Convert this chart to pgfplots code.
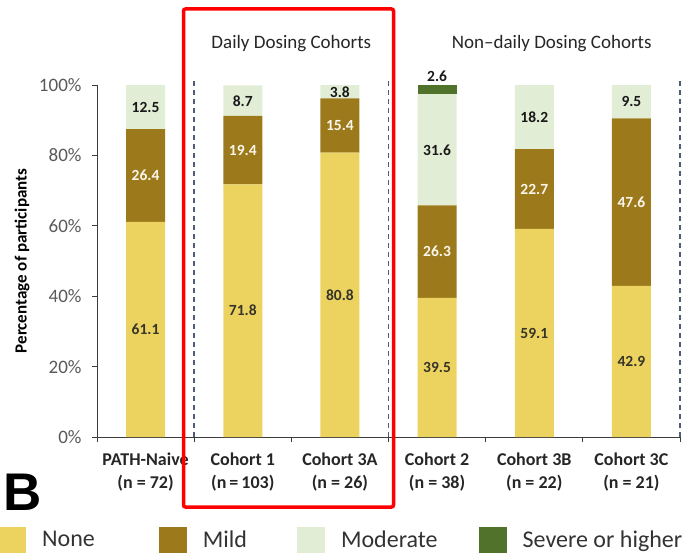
\documentclass[border=0pt]{standalone}
\usepackage{fontspec}
\setmainfont{Carlito}
\newfontfamily\panelfont{Liberation Sans}
\usepackage{pgfplots}
\pgfplotsset{compat=1.18}

\definecolor{sevNone}{RGB}{236,211,96}
\definecolor{sevMild}{RGB}{156,122,28}
\definecolor{sevModerate}{RGB}{226,237,214}
\definecolor{sevSevere}{RGB}{80,114,42}
\definecolor{groupLine}{RGB}{80,92,118}
\definecolor{tickGray}{RGB}{89,89,89}
\definecolor{axisGray}{RGB}{60,60,60}
\definecolor{darkLabel}{RGB}{55,52,40}
\definecolor{lightLabel}{RGB}{250,246,235}

\tikzset{seglabel/.style={font=\fontsize{15.5}{17}\selectfont\bfseries}}

\begin{document}
\begin{tikzpicture}
\begin{axis}[
  at={(97pt,-437pt)}, anchor=south west,
  scale only axis, width=583pt, height=352pt,
  ybar stacked, bar width=39pt,
  xmin=-0.5, xmax=5.5, ymin=0, ymax=100,
  clip=false,
  axis x line*=bottom, axis y line*=left,
  axis line style={axisGray, line width=1pt},
  tick style={axisGray, line width=1pt},
  tick align=outside,
  major tick length=5pt, minor tick length=5pt,
  xtick={0,1,2,3,4,5},
  major x tick style={draw=none},
  minor xtick={-0.5,0.5,1.5,2.5,3.5,4.5,5.5},
  xticklabels={{PATH-Naive\\(n = 72)},{Cohort 1\\(n\,=\,103)},{Cohort 3A\\(n = 26)},{Cohort 2\\(n = 38)},{Cohort 3B\\(n = 22)},{Cohort 3C\\(n = 21)}},
  xticklabel style={font=\fontsize{18}{23}\selectfont\bfseries, align=center, text=black!85, yshift=-7pt},
  ytick={0,20,40,60,80,100},
  yticklabel={\pgfmathprintnumber{\tick}\%},
  yticklabel style={font=\fontsize{19}{20}\selectfont, text=tickGray, xshift=-7pt},
  /pgf/number format/assume math mode=true,
  ylabel={Percentage of participants},
  every axis y label/.style={at={(axis description cs:-0.1286,0.5)}, rotate=90, anchor=center, font=\fontsize{17}{20}\selectfont\bfseries},
  legend image code/.code={\path[draw=none,#1] (0pt,-13pt) rectangle (28pt,13pt);},
  legend columns=4,
  legend style={at={(axis description cs:-0.1698,-0.2926)}, anchor=west, draw=none, fill=none, inner sep=0pt,
    font=\fontsize{24}{28}\selectfont, text=black!80,
    /tikz/every odd column/.append style={column sep=14pt},
    /tikz/column 2/.style={column sep=62pt},
    /tikz/column 4/.style={column sep=48pt},
    /tikz/column 6/.style={column sep=39pt}},
]
% stacked severity shares per cohort
\addplot[fill=sevNone, draw=none] coordinates {(0,61.1) (1,71.8) (2,80.8) (3,39.5) (4,59.1) (5,42.9)};
\addlegendentry{None}
\addplot[fill=sevMild, draw=none] coordinates {(0,26.4) (1,19.4) (2,15.4) (3,26.3) (4,22.7) (5,47.6)};
\addlegendentry{Mild}
\addplot[fill=sevModerate, draw=none] coordinates {(0,12.5) (1,8.7) (2,3.8) (3,31.6) (4,18.2) (5,9.5)};
\addlegendentry{Moderate}
\addplot[fill=sevSevere, draw=none] coordinates {(0,0) (1,0) (2,0) (3,2.6) (4,0) (5,0)};
\addlegendentry{Severe or higher}

% anchor points for the segment values (segment midpoints)
\coordinate (n0) at (axis cs:0,30.55);  \coordinate (m0) at (axis cs:0,74.3);  \coordinate (d0) at (axis cs:0,93.75);
\coordinate (n1) at (axis cs:1,35.9);   \coordinate (m1) at (axis cs:1,81.5);  \coordinate (d1) at (axis cs:1,95.35);
\coordinate (n2) at (axis cs:2,40.4);   \coordinate (m2) at (axis cs:2,88.5);  \coordinate (d2) at (axis cs:2,98.0);
\coordinate (n3) at (axis cs:3,19.75);  \coordinate (m3) at (axis cs:3,52.65); \coordinate (d3) at (axis cs:3,81.6);
\coordinate (n4) at (axis cs:4,29.55);  \coordinate (m4) at (axis cs:4,70.45); \coordinate (d4) at (axis cs:4,90.9);
\coordinate (n5) at (axis cs:5,21.45);  \coordinate (m5) at (axis cs:5,66.7);  \coordinate (d5) at (axis cs:5,95.25);
\coordinate (s3) at (axis cs:3,102.4);

% group separators and headings
\draw[groupLine, dash pattern=on 5pt off 4pt, line width=1.5pt] (axis cs:0.5,0) -- (axis cs:0.5,101.1);
\draw[groupLine, dash pattern=on 5pt off 4pt, line width=1.5pt] (axis cs:2.5,0) -- (axis cs:2.5,101.1);
\draw[groupLine, dash pattern=on 5pt off 4pt, line width=1.5pt] (axis cs:5.5,0) -- (axis cs:5.5,101.1);
\node[font=\fontsize{19}{21}\selectfont, text=black!85] at (axis cs:1.5,111.9) {Daily Dosing Cohorts};
\node[font=\fontsize{19}{21}\selectfont, text=black!85] at (axis cs:4.18,111.9) {Non–daily Dosing Cohorts};
\end{axis}

% segment values on top of the bars
\foreach \c/\v in {n0/61.1, n1/71.8, n2/80.8, n3/39.5, n4/59.1, n5/42.9}
  \node[seglabel, text=darkLabel] at (\c) {\v};
\foreach \c/\v in {m0/26.4, m1/19.4, m2/15.4, m3/26.3, m4/22.7, m5/47.6}
  \node[seglabel, text=lightLabel] at (\c) {\v};
\foreach \c/\v in {d0/12.5, d1/8.7, d2/3.8, d3/31.6, d4/18.2, d5/9.5, s3/2.6}
  \node[seglabel, text=black!90] at (\c) {\v};

% highlight frame around the daily dosing cohorts
\draw[red, line width=3.5pt, rounded corners=2pt] (183.5pt,-9pt) rectangle (393.5pt,-507pt);
% panel letter
\node[font=\panelfont\fontsize{53}{53}\selectfont\bfseries, anchor=base west, inner sep=0pt] at (3pt,-510pt) {B};

\pgfresetboundingbox
\useasboundingbox (0pt,0pt) rectangle (692pt,-556pt);
\end{tikzpicture}
\end{document}
